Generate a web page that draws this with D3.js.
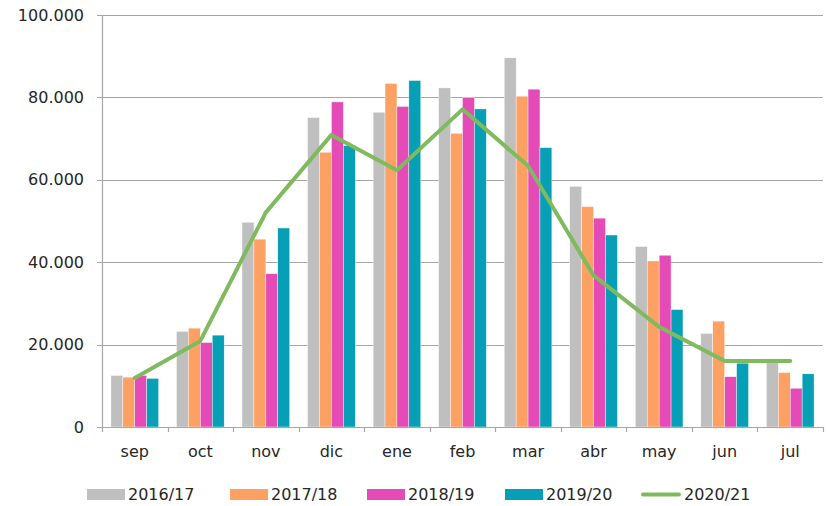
<!DOCTYPE html>
<html>
<head>
<meta charset="utf-8">
<script src="https://cdn.jsdelivr.net/npm/d3@7"></script>
<style>
  body { margin: 0; background: #fff; }
  text { font-family: "DejaVu Sans", sans-serif; fill: #262626; }
</style>
</head>
<body>
<div id="chart"></div>
<script>
// months and series
var months = ["sep", "oct", "nov", "dic", "ene", "feb", "mar", "abr", "may", "jun", "jul"];
var barSeries = ["2016/17", "2017/18", "2018/19", "2019/20"];
var lineSeries = "2020/21";
var s1617 = [12500, 23200, 49700, 75100, 76400, 82300, 89600, 58400, 43800, 22700, 16000];
var s1718 = [12100, 24000, 45600, 66700, 83400, 71300, 80300, 53500, 40300, 25700, 13200];
var s1819 = [12500, 20500, 37200, 78900, 77800, 79900, 82000, 50700, 41700, 12200, 9400];
var s1920 = [11800, 22300, 48300, 68300, 84100, 77200, 67800, 46600, 28500, 15500, 12900];
var s2021 = [11900, 20900, 52100, 70900, 62300, 77100, 63400, 36800, 24300, 16000, 16000];
var yTicks = [0, 20000, 40000, 60000, 80000, 100000];

var barValues = [s1617, s1718, s1819, s1920];
var colors = ["#bfbfbf", "#fca064", "#e44bb6", "#069fb5"];
var lineColor = "#80ba5e";

var chartWidth = 827, chartHeight = 506;
var plotLeft = 102, plotRight = 823, plotTop = 15, plotBottom = 427;

var svg = d3.select("#chart").append("svg")
    .attr("width", chartWidth)
    .attr("height", chartHeight);

var x0 = d3.scaleBand().domain(months).range([plotLeft, plotRight]).padding(0);
var x1 = d3.scaleBand().domain(barSeries).range([0, x0.bandwidth()])
    .paddingInner(0).paddingOuter(0.75);
var y = d3.scaleLinear().domain([0, 100000]).range([plotBottom, plotTop]);

var fmt = d3.formatLocale({decimal: ",", thousands: ".", grouping: [3], currency: ["", ""]}).format(",");

// grid lines + y labels
var yAxis = svg.append("g");
yAxis.selectAll("line").data(yTicks).enter().append("line")
    .attr("x1", plotLeft - 5).attr("x2", plotRight)
    .attr("y1", function(d) { return Math.round(y(d)) + 0.5; })
    .attr("y2", function(d) { return Math.round(y(d)) + 0.5; })
    .attr("stroke", "#a6a6a6").attr("stroke-width", 1.2);
yAxis.selectAll("text").data(yTicks).enter().append("text")
    .attr("x", plotLeft - 18)
    .attr("y", function(d) { return y(d); })
    .attr("dy", "0.35em")
    .attr("text-anchor", "end")
    .attr("font-size", 16)
    .text(function(d) { return fmt(d); });
svg.append("line")
    .attr("x1", plotLeft + 0.5).attr("x2", plotLeft + 0.5)
    .attr("y1", plotTop).attr("y2", plotBottom)
    .attr("stroke", "#a6a6a6").attr("stroke-width", 1.2);

// bars
var groups = svg.selectAll(".grp").data(months).enter().append("g")
    .attr("class", "grp")
    .attr("transform", function(d) { return "translate(" + x0(d) + ",0)"; });
groups.selectAll("rect")
    .data(function(m, i) {
        return barSeries.map(function(s, j) { return {s: s, v: barValues[j][i], j: j}; });
    })
    .enter().append("rect")
    .attr("x", function(d) { return x1(d.s); })
    .attr("width", x1.bandwidth())
    .attr("y", function(d) { return y(d.v); })
    .attr("height", function(d) { return plotBottom - y(d.v); })
    .attr("fill", function(d) { return colors[d.j]; })
    .attr("stroke", "#ffffff")
    .attr("stroke-width", 0.4);

// x axis
var xEdges = months.map(function(m) { return x0(m); }).concat([plotRight]);
svg.append("line")
    .attr("x1", plotLeft).attr("x2", plotRight)
    .attr("y1", plotBottom + 0.5).attr("y2", plotBottom + 0.5)
    .attr("stroke", "#a6a6a6").attr("stroke-width", 1.2);
svg.selectAll(".xtick").data(xEdges).enter().append("line")
    .attr("class", "xtick")
    .attr("x1", function(d) { return Math.round(d) + 0.5; })
    .attr("x2", function(d) { return Math.round(d) + 0.5; })
    .attr("y1", plotBottom).attr("y2", plotBottom + 5)
    .attr("stroke", "#a6a6a6").attr("stroke-width", 1.2);
svg.selectAll(".xlab").data(months).enter().append("text")
    .attr("class", "xlab")
    .attr("x", function(d) { return x0(d) + x0.bandwidth() / 2; })
    .attr("y", 457)
    .attr("text-anchor", "middle")
    .attr("font-size", 16)
    .text(function(d) { return d; });

// line 2020/21
var line = d3.line()
    .x(function(d, i) { return x0(months[i]) + x0.bandwidth() / 2; })
    .y(function(d) { return y(d); });
svg.append("path")
    .datum(s2021)
    .attr("d", line)
    .attr("fill", "none")
    .attr("stroke", lineColor)
    .attr("stroke-width", 4)
    .attr("stroke-linejoin", "round")
    .attr("stroke-linecap", "round");

// legend
var legendX = [87, 230, 367, 505];
var lg = svg.append("g");
barSeries.forEach(function(s, j) {
    lg.append("rect")
        .attr("x", legendX[j]).attr("y", 489)
        .attr("width", 38).attr("height", 11)
        .attr("fill", colors[j]);
    lg.append("text")
        .attr("x", legendX[j] + 41).attr("y", 494.5)
        .attr("dy", "0.35em")
        .attr("font-size", 16)
        .text(s);
});
lg.append("line")
    .attr("x1", 643).attr("x2", 679)
    .attr("y1", 494.5).attr("y2", 494.5)
    .attr("stroke", lineColor).attr("stroke-width", 4)
    .attr("stroke-linecap", "round");
lg.append("text")
    .attr("x", 684).attr("y", 494.5)
    .attr("dy", "0.35em")
    .attr("font-size", 16)
    .text(lineSeries);
</script>
</body>
</html>
